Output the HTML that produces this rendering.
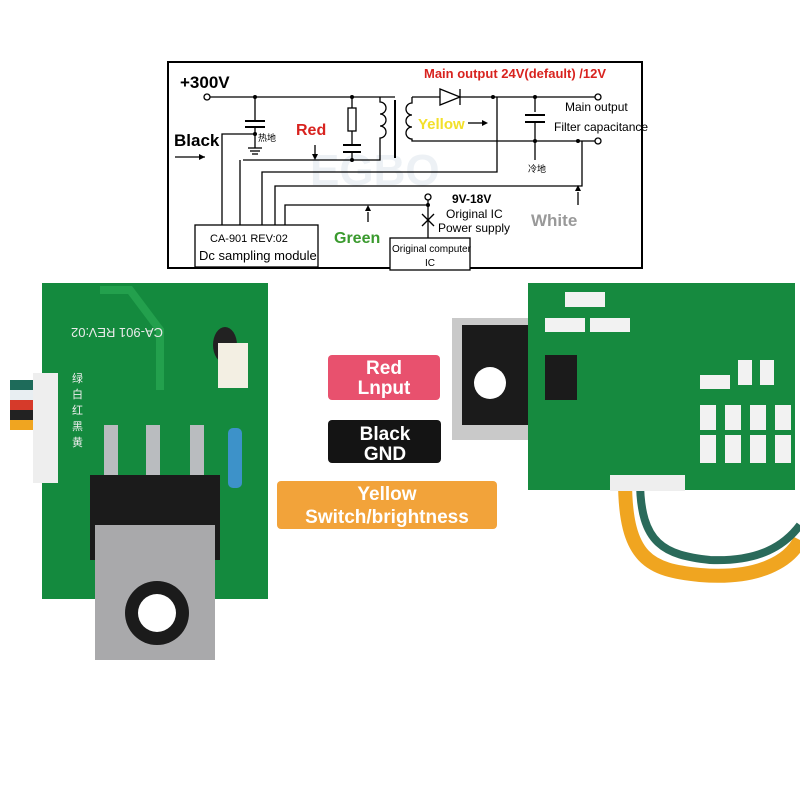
<!DOCTYPE html>
<html><head><meta charset="utf-8"><style>
body{margin:0;width:800px;height:800px;background:#fff;overflow:hidden}
svg{display:block}
text{font-family:"Liberation Sans","Noto Sans CJK SC",sans-serif}
</style></head><body>
<svg width="800" height="800" viewBox="0 0 800 800" xmlns="http://www.w3.org/2000/svg">
<!-- schematic -->
<rect x="168" y="62" width="474" height="206" fill="#fff" stroke="#000" stroke-width="2"/>
<text x="310" y="185" fill="#edf1f5" font-size="44" font-weight="bold">EGBO</text>
<g stroke="#000" stroke-width="1.3" fill="none">
<circle cx="207" cy="97" r="3" fill="#fff"/>
<line x1="210" y1="97" x2="395" y2="97"/>
<line x1="255" y1="97" x2="255" y2="121"/>
<line x1="245" y1="121" x2="265" y2="121" stroke-width="2"/>
<line x1="245" y1="127" x2="265" y2="127" stroke-width="2"/>
<line x1="255" y1="127" x2="255" y2="148"/>
<line x1="248" y1="148" x2="262" y2="148"/><line x1="250" y1="151" x2="260" y2="151"/><line x1="252" y1="154" x2="258" y2="154"/>
<line x1="352" y1="97" x2="352" y2="108"/>
<rect x="348" y="108" width="8" height="23"/>
<line x1="352" y1="131" x2="352" y2="145"/>
<line x1="343" y1="145" x2="361" y2="145" stroke-width="2"/>
<line x1="343" y1="152" x2="361" y2="152" stroke-width="2"/>
<line x1="352" y1="152" x2="352" y2="160"/>
<path d="M380 97 v5 a5 5 0 0 1 0 12 a5 5 0 0 1 0 12 a5 5 0 0 1 0 12 v22 h-137"/>
<line x1="395" y1="100" x2="395" y2="158" stroke-width="2"/>
<path d="M412 97 v6 a5 5 0 0 0 0 12 a5 5 0 0 0 0 12 a5 5 0 0 0 0 12 v2 h186"/>
<line x1="412" y1="97" x2="440" y2="97"/>
<path d="M440 89 L440 105 L460 97 Z"/>
<line x1="460" y1="89" x2="460" y2="105"/>
<line x1="460" y1="97" x2="595" y2="97"/>
<circle cx="598" cy="97" r="3" fill="#fff"/>
<circle cx="598" cy="141" r="3" fill="#fff"/>
<line x1="535" y1="97" x2="535" y2="112"/>
<line x1="525" y1="115" x2="545" y2="115" stroke-width="2"/>
<line x1="525" y1="122" x2="545" y2="122" stroke-width="2"/>
<line x1="535" y1="122" x2="535" y2="160"/>
<path d="M222 225 V134 h33"/>
<path d="M240 225 V160"/>
<path d="M262 225 V172 h235 V97"/>
<path d="M275 225 V186 h307 V141"/>
<path d="M285 225 V205 h143"/>
<circle cx="428" cy="197" r="3" fill="#fff"/>
<line x1="428" y1="200" x2="428" y2="238"/>
<line x1="422" y1="214" x2="434" y2="226"/><line x1="434" y1="214" x2="422" y2="226"/>
<rect x="195" y="225" width="123" height="42" fill="#fff"/>
<rect x="390" y="238" width="80" height="32" fill="#fff"/>
<line x1="175" y1="157" x2="205" y2="157"/>
</g>
<g fill="#000">
<circle cx="255" cy="97" r="2"/><circle cx="352" cy="97" r="2"/><circle cx="255" cy="134" r="2"/><circle cx="352" cy="160" r="2"/><circle cx="493" cy="97" r="2"/><circle cx="535" cy="97" r="2"/><circle cx="535" cy="141" r="2"/><circle cx="578" cy="141" r="2"/><circle cx="428" cy="205" r="2"/>
<path d="M205 157 l-6 -3 v6z"/><path d="M315 160 l-3 -6 h6z"/><path d="M488 123 l-6 -3 v6z"/><path d="M578 185 l-3 6 h6z"/><path d="M368 205 l-3 6 h6z"/>
</g>
<line x1="315" y1="145" x2="315" y2="156" stroke="#000" stroke-width="1.3"/>
<line x1="468" y1="123" x2="483" y2="123" stroke="#000" stroke-width="1.3"/>
<line x1="578" y1="192" x2="578" y2="205" stroke="#000" stroke-width="1.3"/>
<line x1="368" y1="212" x2="368" y2="222" stroke="#000" stroke-width="1.3"/>
<text x="180" y="88" font-size="17" font-weight="bold">+300V</text>
<text x="174" y="146" font-size="17" font-weight="bold">Black</text>
<text x="258" y="141" font-size="9">热地</text>
<text x="296" y="135" font-size="16" font-weight="bold" fill="#d8231f">Red</text>
<text x="418" y="129" font-size="15" font-weight="bold" fill="#f3e02a">Yellow</text>
<text x="424" y="78" font-size="13" font-weight="bold" fill="#d8231f">Main output 24V(default) /12V</text>
<text x="565" y="111" font-size="12">Main output</text>
<text x="554" y="131" font-size="12">Filter capacitance</text>
<text x="528" y="172" font-size="9">冷地</text>
<text x="452" y="203" font-size="12" font-weight="bold">9V-18V</text>
<text x="446" y="218" font-size="12">Original IC</text>
<text x="438" y="232" font-size="12">Power supply</text>
<text x="531" y="226" font-size="17" font-weight="bold" fill="#999">White</text>
<text x="334" y="243" font-size="16" font-weight="bold" fill="#3a9a2e">Green</text>
<text x="210" y="242" font-size="11">CA-901 REV:02</text>
<text x="199" y="260" font-size="13">Dc sampling module</text>
<text x="392" y="252" font-size="10">Original computer</text>
<text x="425" y="266" font-size="10">IC</text>

<!-- left board -->
<rect x="10" y="380" width="40" height="10" fill="#1e6b5a"/>
<rect x="10" y="390" width="40" height="10" fill="#e8eef2"/>
<rect x="10" y="400" width="40" height="10" fill="#d63a2a"/>
<rect x="10" y="410" width="40" height="10" fill="#222"/>
<rect x="10" y="420" width="40" height="10" fill="#f0a520"/>
<rect x="42" y="283" width="226" height="316" fill="#148a3e"/>
<path d="M100 290 h30 l30 40 v60" stroke="#23a04d" stroke-width="8" fill="none"/>
<rect x="33" y="373" width="25" height="110" fill="#eee"/>
<text x="117" y="338" font-size="13" fill="#eaeaea" text-anchor="middle" transform="rotate(180 117 333)">CA-901 REV:02</text>
<text x="72" y="382" font-size="11" fill="#eee">绿</text><text x="72" y="398" font-size="11" fill="#eee">白</text><text x="72" y="414" font-size="11" fill="#eee">红</text><text x="72" y="430" font-size="11" fill="#eee">黑</text><text x="72" y="446" font-size="11" fill="#eee">黄</text>
<ellipse cx="225" cy="345" rx="12" ry="18" fill="#222"/>
<rect x="218" y="343" width="30" height="45" fill="#f3efe3"/>
<rect x="228" y="428" width="14" height="60" rx="5" fill="#3d92c9"/>
<rect x="104" y="425" width="14" height="70" fill="#b9bcbf"/><rect x="146" y="425" width="14" height="70" fill="#b9bcbf"/><rect x="190" y="425" width="14" height="70" fill="#b9bcbf"/>
<rect x="90" y="475" width="130" height="85" fill="#1b1b1b"/>
<rect x="95" y="525" width="120" height="135" fill="#a9a9ab"/>
<circle cx="157" cy="613" r="32" fill="#1b1b1b"/>
<circle cx="157" cy="613" r="19" fill="#fff"/>

<!-- right board -->
<path d="M625 480 C625 560 650 570 700 575 C760 580 790 560 800 540" stroke="#f0a520" stroke-width="14" fill="none"/>
<path d="M640 480 C640 545 665 555 710 560 C760 562 785 545 800 525" stroke="#2a6a5a" stroke-width="8" fill="none"/>
<rect x="452" y="318" width="80" height="122" fill="#c9c9c9"/>
<rect x="462" y="325" width="66" height="100" fill="#1b1b1b"/>
<circle cx="490" cy="383" r="16" fill="#fff"/>
<rect x="528" y="283" width="267" height="207" fill="#168a3f"/>
<rect x="545" y="355" width="32" height="45" fill="#1b1b1b"/>
<rect x="610" y="475" width="75" height="16" fill="#eee"/>
<g fill="#f2f2f2"><rect x="565" y="292" width="40" height="15"/><rect x="545" y="318" width="40" height="14"/><rect x="590" y="318" width="40" height="14"/><rect x="700" y="435" width="16" height="28"/><rect x="725" y="435" width="16" height="28"/><rect x="750" y="435" width="16" height="28"/><rect x="775" y="435" width="16" height="28"/><rect x="700" y="405" width="16" height="25"/><rect x="725" y="405" width="16" height="25"/><rect x="750" y="405" width="16" height="25"/><rect x="775" y="405" width="16" height="25"/><rect x="738" y="360" width="14" height="25"/><rect x="760" y="360" width="14" height="25"/><rect x="700" y="375" width="30" height="14"/></g>

<!-- labels -->
<rect x="328" y="355" width="112" height="45" rx="4" fill="#e8516e"/>
<text x="384" y="374" font-size="19" font-weight="bold" fill="#fff" text-anchor="middle">Red</text>
<text x="384" y="394" font-size="19" font-weight="bold" fill="#fff" text-anchor="middle">Lnput</text>
<rect x="328" y="420" width="113" height="43" rx="4" fill="#141414"/>
<text x="385" y="440" font-size="19" font-weight="bold" fill="#fff" text-anchor="middle">Black</text>
<text x="385" y="460" font-size="19" font-weight="bold" fill="#fff" text-anchor="middle">GND</text>
<rect x="277" y="481" width="220" height="48" rx="4" fill="#f2a33a"/>
<text x="387" y="500" font-size="19" font-weight="bold" fill="#fff" text-anchor="middle">Yellow</text>
<text x="387" y="523" font-size="19" font-weight="bold" fill="#fff" text-anchor="middle">Switch/brightness</text>
</svg>
</body></html>
